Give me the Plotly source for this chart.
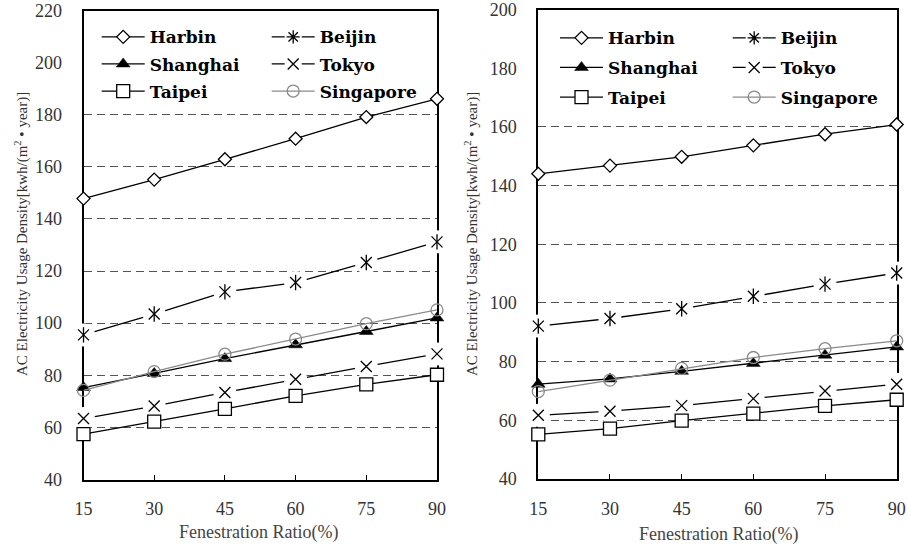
import plotly.graph_objects as go

W, H = 907, 546

ratios = [15, 30, 45, 60, 75, 90]
x_ticks = [15, 30, 45, 60, 75, 90]
left_y_ticks = [40, 60, 80, 100, 120, 140, 160, 180, 200, 220]
right_y_ticks = [40, 60, 80, 100, 120, 140, 160, 180, 200]
# dashed grid lines visible outside the legend box
left_grid = [60, 80, 100, 120, 140, 160, 180]
right_grid = [60, 80, 100, 120, 140, 160]

# Left panel
left_harbin = [147.8, 155.1, 162.9, 170.8, 179.1, 186.1]
left_beijin = [95.5, 103.5, 112.0, 115.6, 123.3, 131.2]
left_shanghai = [75.3, 80.7, 86.4, 91.7, 96.8, 102.0]
left_tokyo = [63.4, 68.2, 73.4, 78.5, 83.4, 88.2]
left_taipei = [57.4, 62.2, 67.1, 72.1, 76.5, 80.2]
left_singapore = [74.2, 81.4, 88.1, 93.9, 99.8, 105.1]

# Right panel
right_harbin = [144.0, 146.8, 149.8, 153.7, 157.5, 160.8]
right_beijin = [92.1, 94.7, 98.0, 102.3, 106.4, 110.2]
right_shanghai = [72.3, 74.1, 76.7, 79.4, 82.2, 85.0]
right_tokyo = [61.7, 63.1, 65.0, 67.4, 70.0, 72.3]
right_taipei = [55.2, 57.2, 59.9, 62.3, 64.9, 67.0]
right_singapore = [69.8, 73.7, 77.7, 81.4, 84.4, 87.1]

x_title = "Fenestration Ratio(%)"
y_title = "AC Electricity Usage Density[kwh/(m<sup>2</sup> \u2022 year)]"

def px(x):
    return x / W

def py(y):
    return 1 - y / H

BLACK = "#000000"
GRAY = "#8a8a8a"
LW = 1.3
MASK = 23

fig = go.Figure()

def add_panel(xa, ya, harbin, beijin, shanghai, tokyo, taipei, singapore):
    common = dict(xaxis=xa, yaxis=ya, showlegend=False, cliponaxis=False, hoverinfo="skip")
    fig.add_trace(go.Scatter(x=ratios, y=harbin, mode="lines+markers",
                             line=dict(color=BLACK, width=LW),
                             marker=dict(symbol="diamond", size=10, color="white",
                                         line=dict(color=BLACK, width=1.3)), **common))
    fig.add_trace(go.Scatter(x=ratios, y=beijin, mode="lines",
                             line=dict(color=BLACK, width=LW), **common))
    fig.add_trace(go.Scatter(x=ratios, y=beijin, mode="markers",
                             marker=dict(symbol="circle", size=MASK, color="white", opacity=1,
                                         line=dict(width=0, color="white")), **common))
    fig.add_trace(go.Scatter(x=ratios, y=beijin, mode="markers",
                             marker=dict(symbol="x-thin-open", size=11, color=BLACK,
                                         line=dict(color=BLACK, width=1.3)), **common))
    fig.add_trace(go.Scatter(x=ratios, y=beijin, mode="markers",
                             marker=dict(symbol="line-ns-open", size=11, color=BLACK,
                                         line=dict(color=BLACK, width=1.3)), **common))
    fig.add_trace(go.Scatter(x=ratios, y=shanghai, mode="lines+markers",
                             line=dict(color=BLACK, width=LW),
                             marker=dict(symbol="triangle-up", size=12, color=BLACK,
                                         line=dict(color=BLACK, width=0.5)), **common))
    fig.add_trace(go.Scatter(x=ratios, y=tokyo, mode="lines",
                             line=dict(color=BLACK, width=LW), **common))
    fig.add_trace(go.Scatter(x=ratios, y=tokyo, mode="markers",
                             marker=dict(symbol="circle", size=MASK, color="white", opacity=1,
                                         line=dict(width=0, color="white")), **common))
    fig.add_trace(go.Scatter(x=ratios, y=tokyo, mode="markers",
                             marker=dict(symbol="x-thin-open", size=11, color=BLACK,
                                         line=dict(color=BLACK, width=1.3)), **common))
    fig.add_trace(go.Scatter(x=ratios, y=taipei, mode="lines+markers",
                             line=dict(color=BLACK, width=LW),
                             marker=dict(symbol="square", size=13, color="white",
                                         line=dict(color=BLACK, width=1.3)), **common))
    fig.add_trace(go.Scatter(x=ratios, y=singapore, mode="lines+markers",
                             line=dict(color=GRAY, width=LW),
                             marker=dict(symbol="circle-open", size=12, color=GRAY,
                                         line=dict(color=GRAY, width=1.3)), **common))

add_panel("x", "y", left_harbin, left_beijin, left_shanghai, left_tokyo, left_taipei, left_singapore)
add_panel("x2", "y2", right_harbin, right_beijin, right_shanghai, right_tokyo, right_taipei, right_singapore)

def legend_entries(xa, ya, leg_a, leg_b):
    gap_dash = "13px,17px,13px"
    entries = [
        ("Harbin", leg_a, dict(color=BLACK, width=LW), dict(symbol="diamond", size=10, color="white", line=dict(color=BLACK, width=1.3))),
        ("Shanghai", leg_a, dict(color=BLACK, width=LW), dict(symbol="triangle-up", size=12, color=BLACK, line=dict(color=BLACK, width=0.5))),
        ("Taipei", leg_a, dict(color=BLACK, width=LW), dict(symbol="square", size=13, color="white", line=dict(color=BLACK, width=1.3))),
        ("Beijin", leg_b, dict(color=BLACK, width=LW, dash=gap_dash), dict(symbol="asterisk-open", size=11, color=BLACK, line=dict(color=BLACK, width=1.3))),
        ("Tokyo", leg_b, dict(color=BLACK, width=LW, dash=gap_dash), dict(symbol="x-thin-open", size=11, color=BLACK, line=dict(color=BLACK, width=1.3))),
        ("Singapore", leg_b, dict(color=GRAY, width=LW), dict(symbol="circle-open", size=12, color=GRAY, line=dict(color=GRAY, width=1.3))),
    ]
    for name, leg, ln, mk in entries:
        fig.add_trace(go.Scatter(x=[None], y=[None], mode="lines+markers", name=name,
                                 legend=leg, legendgroup=leg + name, line=ln, marker=mk,
                                 xaxis=xa, yaxis=ya, hoverinfo="skip"))

legend_entries("x", "y", "legend", "legend2")
legend_entries("x2", "y2", "legend3", "legend4")

leg_font = dict(family="DejaVu Serif", size=17, color=BLACK, weight="bold")

def legend_cfg(line_start_x, first_row_y, gap):
    return dict(x=px(line_start_x - 5), y=py(first_row_y - 18), xanchor="left", yanchor="top",
                bgcolor="rgba(0,0,0,0)", borderwidth=0, font=leg_font, itemwidth=43,
                tracegroupgap=gap, traceorder="grouped", itemclick=False, itemdoubleclick=False)

tick_font = dict(family="Liberation Serif", size=18, color="#333333")

def xaxis_cfg(x0, x1, anchor):
    return dict(domain=[px(x0), px(x1)], range=[15, 90], tickvals=x_ticks, anchor=anchor,
                ticks="inside", ticklen=5, tickwidth=1.3, tickcolor=BLACK,
                showline=True, linecolor=BLACK, linewidth=2, mirror=True,
                showgrid=False, zeroline=False, tickfont=tick_font,
                ticklabelstandoff=12, ticklabeloverflow="allow",
                layer="below traces", automargin=False, fixedrange=True)

def yaxis_cfg(y0, y1, lo, hi, tv, grid, anchor):
    return dict(domain=[py(y1), py(y0)], range=[lo, hi], tickvals=tv, anchor=anchor,
                ticks="", showline=True, linecolor=BLACK, linewidth=2, mirror=True,
                showgrid=False, zeroline=False, tickfont=tick_font, ticklabelstandoff=16,
                ticklabeloverflow="allow",
                minor=dict(tickvals=grid, showgrid=True, gridcolor="#555555", gridwidth=1.2,
                           griddash="8px,5px", ticks=""),
                layer="below traces", automargin=False, fixedrange=True)

fig.update_layout(
    width=W, height=H,
    margin=dict(l=0, r=0, t=0, b=0),
    paper_bgcolor="white", plot_bgcolor="white",
    xaxis=xaxis_cfg(83.5, 437.0, "y"),
    yaxis=yaxis_cfg(10.5, 479.5, 40, 220, left_y_ticks, left_grid, "x"),
    xaxis2=xaxis_cfg(538.3, 896.7, "y2"),
    yaxis2=yaxis_cfg(9.5, 479.0, 40, 200, right_y_ticks, right_grid, "x2"),
    legend=legend_cfg(101.7, 37.3, 2),
    legend2=legend_cfg(271.7, 37.3, 2),
    legend3=legend_cfg(560.0, 38.3, 4.5),
    legend4=legend_cfg(732.7, 38.3, 4.5),
    annotations=[
        dict(text=y_title, x=px(21), y=py(234), xref="paper", yref="paper", textangle=-90,
             xanchor="center", yanchor="middle", showarrow=False,
             font=dict(family="Liberation Serif", size=15, color="#333333")),
        dict(text=y_title, x=px(471), y=py(234), xref="paper", yref="paper", textangle=-90,
             xanchor="center", yanchor="middle", showarrow=False,
             font=dict(family="Liberation Serif", size=15, color="#333333")),
        dict(text=x_title, x=px(258), y=py(532), xref="paper", yref="paper",
             xanchor="center", yanchor="middle", showarrow=False,
             font=dict(family="Liberation Serif", size=18, color="#444444")),
        dict(text=x_title, x=px(718), y=py(534), xref="paper", yref="paper",
             xanchor="center", yanchor="middle", showarrow=False,
             font=dict(family="Liberation Serif", size=18, color="#444444")),
    ],
)

fig.write_html("out.html")
